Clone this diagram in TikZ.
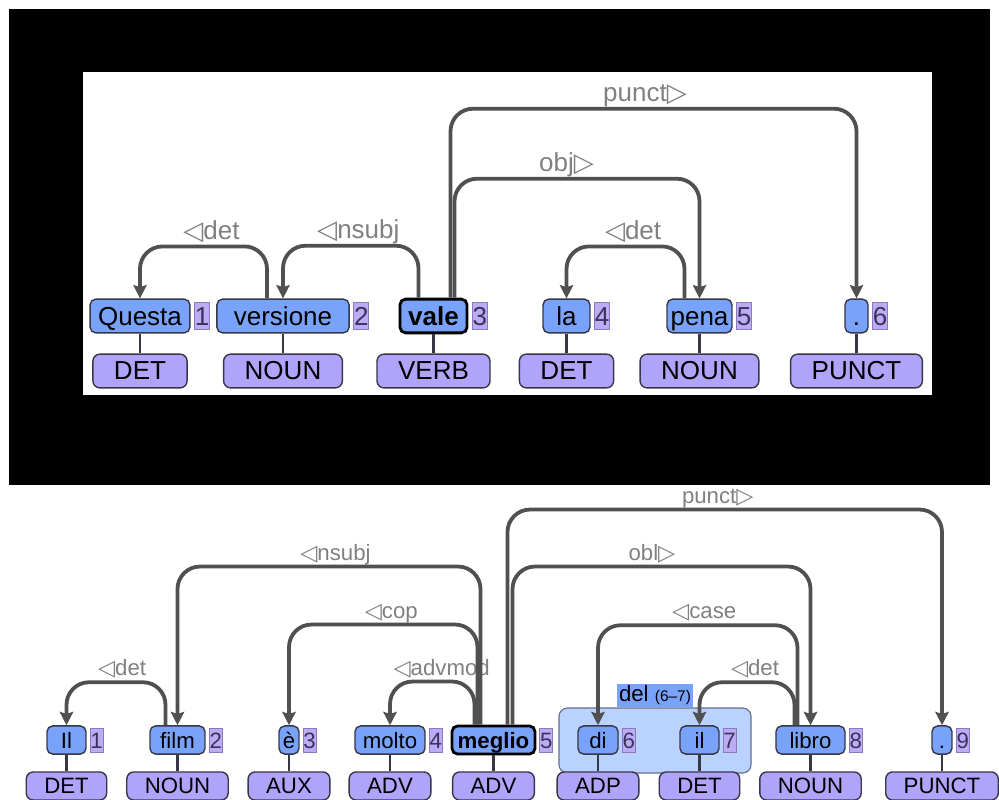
\documentclass[tikz,border=0pt]{standalone}
\usepackage{fontspec}
\setmainfont{Liberation Sans}
\newfontfamily\symfont{DejaVu Sans}
\usetikzlibrary{positioning}
\usetikzlibrary{calc}
\usetikzlibrary{arrows.meta}

\definecolor{wordblue}{RGB}{121,163,250}
\definecolor{uposviolet}{RGB}{176,164,250}
\definecolor{idviolet}{RGB}{188,172,245}
\definecolor{idline}{RGB}{140,120,190}
\definecolor{idtext}{RGB}{60,50,90}
\definecolor{boxline}{RGB}{55,55,70}
\definecolor{mwtblue}{RGB}{186,210,255}
\definecolor{mwtline}{RGB}{100,110,140}
\definecolor{arcgray}{RGB}{80,80,80}
\definecolor{lblgray}{RGB}{128,128,128}

\newcommand{\lefttri}{{\symfont ◁}}
\newcommand{\righttri}{{\symfont ▷}}

\begin{document}
\begin{tikzpicture}[
    x = 0.025cm,
    y = -0.025cm,
    semithick,
    ]

    \tikzstyle{form}=[
    draw = boxline,
    fill = wordblue,
    line width = 1pt,
    rounded corners = 4pt,
    inner xsep = 0pt,
    inner ysep = 0pt,
    text depth = 0pt,
    ]
    \tikzstyle{headword}=[
    line width = 2pt,
    draw = black,
    ]
    \tikzstyle{tokid}=[
    draw = idline,
    fill = idviolet,
    text = idtext,
    line width = 0.6pt,
    inner sep = 0pt,
    text depth = 0pt,
    ]
    \tikzstyle{upos}=[
    draw = boxline,
    fill = uposviolet,
    line width = 1pt,
    rounded corners = 5pt,
    inner ysep = 0pt,
    ]
    \tikzstyle{poslink}=[
    draw = boxline,
    line width = 2pt,
    ]
    \tikzstyle{deprel}=[
    draw = arcgray,
    line width = 2.7pt,
    rounded corners = 16pt,
    -{Stealth[length=9.5pt, width=9.5pt, inset=1.5pt]},
    ]
    \tikzstyle{rellabel}=[
    text = lblgray,
    above,
    inner sep = 0pt,
    ]
    \tikzstyle{mwt}=[
    draw = mwtline,
    fill = mwtblue,
    line width = 0.8pt,
    rounded corners = 6pt,
    ]
    \tikzstyle{mwtlabel}=[
    fill = wordblue,
    inner xsep = 1pt,
    inner ysep = 0pt,
    ]

    \useasboundingbox (0,0) rectangle (999,800);

    % frame round the first sentence
    \fill[black] (9,9) rectangle (990,485);
    \fill[white] (83,72) rectangle (932,395);

    % Questa versione vale la pena .
    \begin{scope}[
        font = \fontsize{18.5}{21}\selectfont,
        node distance = 1.375cm,
        form/.append style = {minimum height=24pt, text height=13.7pt},
        upos/.append style = {minimum height=24pt, inner xsep=15pt, text height=13.7pt, text depth=1.8pt},
        tokid/.append style = {minimum height=19pt, minimum width=10.7pt, text height=13.3pt},
        rellabel/.append style = {text height=13.3pt, text depth=3.7pt},
        ]
        \node[form, minimum width=71pt] (t1) at (140,316) {Questa};
        \node[form, minimum width=94pt] (t2) at (283,316) {versione};
        \node[form, headword, minimum width=47.7pt] (t3) at (433.5,316) {\textbf{vale}};
        \node[form, minimum width=33.4pt] (t4) at (566.5,316) {la};
        \node[form, minimum width=46.2pt] (t5) at (699.5,316) {pena};
        \node[form, minimum width=16.4pt] (t6) at (856.5,316) {.};

        \node[tokid, right=2.5pt of t1] (t1i) {1};
        \node[tokid, right=2.5pt of t2] (t2i) {2};
        \node[tokid, right=2.5pt of t3] (t3i) {3};
        \node[tokid, right=2.5pt of t4] (t4i) {4};
        \node[tokid, right=2.5pt of t5] (t5i) {5};
        \node[tokid, right=2.5pt of t6] (t6i) {6};

        \node[upos] (t1p) [below of=t1] {DET};
        \node[upos] (t2p) [below of=t2] {NOUN};
        \node[upos] (t3p) [below of=t3] {VERB};
        \node[upos] (t4p) [below of=t4] {DET};
        \node[upos] (t5p) [below of=t5] {NOUN};
        \node[upos] (t6p) [below of=t6] {PUNCT};

        \foreach \i in {1,...,6}
            \draw[poslink] (t\i.south) -- (t\i p.north);

        \draw[deprel] ($(t2.north)+(-16,0)$) -- ++(0,-52)
            -| node[rellabel, pos=0.25, xshift=5.7pt] {\lefttri det} (t1.north);
        \draw[deprel] ($(t3.north)+(-15,0)$) -- ++(0,-52)
            -| node[rellabel, pos=0.25, xshift=5.4pt] {\lefttri nsubj} (t2.north);
        \draw[deprel] ($(t5.north)+(-15,0)$) -- ++(0,-52)
            -| node[rellabel, pos=0.25, xshift=5.4pt] {\lefttri det} (t4.north);
        \draw[deprel] ($(t3.north)+(21,0)$) -- ++(0,-119)
            -| node[rellabel, pos=0.25, xshift=-7.5pt] {obj\righttri} (t5.north);
        \draw[deprel] ($(t3.north)+(17,0)$) -- ++(0,-189)
            -| node[rellabel, pos=0.25, xshift=-6pt] {punct\righttri} (t6.north);
    \end{scope}

    % Il film è molto meglio del libro .
    \begin{scope}[
        font = \fontsize{15.8}{18}\selectfont,
        node distance = 1.15cm,
        form/.append style = {minimum height=20pt, text height=11.7pt},
        upos/.append style = {minimum height=20pt, inner xsep=12.8pt, text height=11.7pt, text depth=1.6pt},
        tokid/.append style = {minimum height=17pt, minimum width=9.2pt, text height=11.4pt},
        rellabel/.append style = {text height=11.4pt, text depth=3.2pt},
        ]
        \node[mwt, minimum width=136.6pt, minimum height=46.2pt] (del) at (655,740.5) {};
        \node[mwtlabel, minimum width=54pt, minimum height=16.4pt] (dellbl) at (655,695.5)
            {del {\fontsize{11}{11}\selectfont(6–7)}};

        \node[form, minimum width=27.7pt] (b1) at (66.5,740) {Il};
        \node[form, minimum width=39.1pt] (b2) at (177.5,740) {film};
        \node[form, minimum width=14.2pt] (b3) at (289,740) {è};
        \node[form, minimum width=49.8pt] (b4) at (390,740) {molto};
        \node[form, headword, minimum width=59pt] (b5) at (493.5,740) {\textbf{meglio}};
        \node[form, minimum width=28.5pt] (b6) at (598,740) {di};
        \node[form, minimum width=27.7pt] (b7) at (699.5,740) {il};
        \node[form, minimum width=49.1pt] (b8) at (810.5,740) {libro};
        \node[form, minimum width=14.2pt] (b9) at (942,740) {.};

        \foreach \i in {1,...,9}
            \node[tokid, right=2.2pt of b\i] (b\i i) {\i};

        \node[upos] (b1p) [below of=b1] {DET};
        \node[upos] (b2p) [below of=b2] {NOUN};
        \node[upos] (b3p) [below of=b3] {AUX};
        \node[upos] (b4p) [below of=b4] {ADV};
        \node[upos] (b5p) [below of=b5] {ADV};
        \node[upos] (b6p) [below of=b6] {ADP};
        \node[upos] (b7p) [below of=b7] {DET};
        \node[upos] (b8p) [below of=b8] {NOUN};
        \node[upos] (b9p) [below of=b9] {PUNCT};

        \foreach \i in {1,...,9}
            \draw[poslink] (b\i.south) -- (b\i p.north);

        \draw[deprel] ($(b2.north)+(-12,0)$) -- ++(0,-43)
            -| node[rellabel, pos=0.25, xshift=4.3pt] {\lefttri det} (b1.north);
        \draw[deprel] ($(b5.north)+(-19,0)$) -- ++(0,-43)
            -| node[rellabel, pos=0.25, xshift=6.7pt] {\lefttri advmod} (b4.north);
        \draw[deprel] ($(b5.north)+(-16,0)$) -- ++(0,-100)
            -| node[rellabel, pos=0.25, xshift=5.7pt] {\lefttri cop} (b3.north);
        \draw[deprel] ($(b5.north)+(-13,0)$) -- ++(0,-158)
            -| node[rellabel, pos=0.25, xshift=4.6pt] {\lefttri nsubj} (b2.north);
        \draw[deprel] ($(b5.north)+(19,0)$) -- ++(0,-158)
            -| node[rellabel, pos=0.25, xshift=-6.8pt] {obl\righttri} (b8.north);
        \draw[deprel] ($(b5.north)+(14,0)$) -- ++(0,-215)
            -| node[rellabel, pos=0.25, xshift=-5pt] {punct\righttri} (b9.north);
        \draw[deprel] ($(b8.north)+(-13,0)$) -- ++(0,-100)
            -| node[rellabel, pos=0.25, xshift=4.6pt] {\lefttri case} (b6.north);
        \draw[deprel] ($(b8.north)+(-16,0)$) -- ++(0,-43)
            -| node[rellabel, pos=0.25, xshift=5.7pt] {\lefttri det} (b7.north);
    \end{scope}
\end{tikzpicture}
\end{document}
